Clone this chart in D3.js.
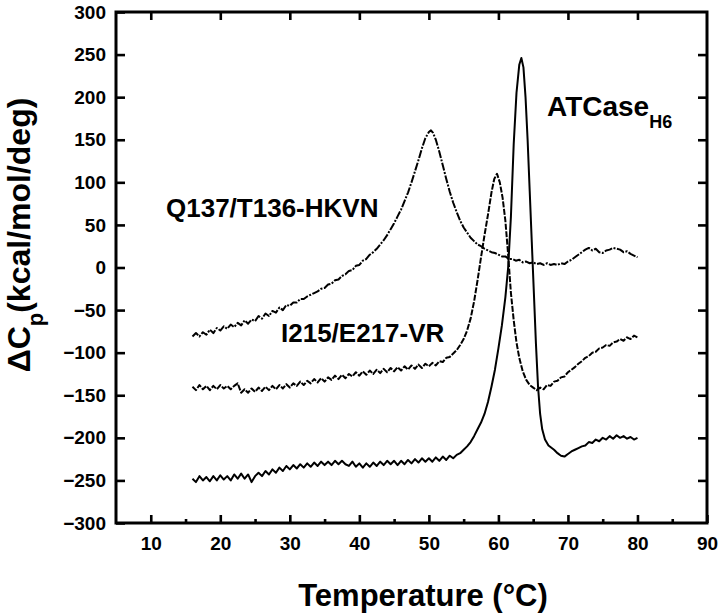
<!DOCTYPE html>
<html>
<head>
<meta charset="utf-8">
<script src="https://cdn.jsdelivr.net/npm/d3@7"></script>
<style>
  html, body { margin: 0; padding: 0; background: #fff; }
  svg { display: block; }
  text { font-family: Arial, "Liberation Sans", Helvetica, sans-serif; font-weight: bold; fill: #000; }
</style>
</head>
<body>
<svg id="chart" width="720" height="616"></svg>
<script>
// ---------- data ----------
const xMajorTicks = [10, 20, 30, 40, 50, 60, 70, 80, 90];
const xMinorTicks = [15, 25, 35, 45, 55, 65, 75, 85];
const yTicks = [-300, -250, -200, -150, -100, -50, 0, 50, 100, 150, 200, 250, 300];

const seriesNames = ["Q137/T136-HKVN", "I215/E217-VR", "ATCase"];

// Q137/T136-HKVN
const tempQ = [16,16.5,17,17.5,18,18.5,19,19.5,20,20.5,21,21.5,22,22.5,23,23.5,24,24.5,25,25.5,26,26.5,27,27.5,28,28.5,29,29.5,30,30.5,31,31.5,32,32.5,33,33.5,34,34.5,35,35.5,36,36.5,37,37.5,38,38.5,39,39.5,40,40.5,41,41.5,42,42.5,43,43.5,44,44.5,45,45.5,46,46.5,47,47.5,48,48.5,49,49.5,50,50.3,50.6,51,51.5,52,52.5,53,53.5,54,54.5,55,55.5,56,56.5,57,57.5,58,58.5,59,59.5,60,60.5,61,61.5,62,62.5,63,63.5,64,64.5,65,65.5,66,66.5,67,67.5,68,68.5,69,69.5,70,70.5,71,71.5,72,72.5,73,73.5,74,74.5,75,75.5,76,76.5,77,77.5,78,78.5,79,79.5,80];
const valQ = [-81,-77,-81,-76,-79,-73,-77,-71,-74,-69,-72,-67,-70,-65,-68,-62,-66,-61,-63,-57,-60,-54,-57,-51,-53,-47,-50,-44,-45,-41,-41,-37,-37,-34,-32,-30,-28,-25,-24,-20,-19,-15,-14,-10,-8,-4,-3,2,3,8,10,15,18,22,27,32,38,45,52,60,68,78,88,100,113,126,140,152,159,161,158,150,136,120,104,89,76,65,55,47,41,35,31,27,25,22,20,18,17,15,13,13,10,10,8,9,6,7,5,6,4,5,3,5,3,4,3,5,4,7,9,12,15,18,21,23,20,22,18,17,20,21,23,22,21,18,19,16,14,12];

// I215/E217-VR
const tempI = [16,16.5,17,17.5,18,18.5,19,19.5,20,20.5,21,21.5,22,22.5,23,23.5,24,24.5,25,25.5,26,26.5,27,27.5,28,28.5,29,29.5,30,30.5,31,31.5,32,32.5,33,33.5,34,34.5,35,35.5,36,36.5,37,37.5,38,38.5,39,39.5,40,40.5,41,41.5,42,42.5,43,43.5,44,44.5,45,45.5,46,46.5,47,47.5,48,48.5,49,49.5,50,50.5,51,51.5,52,52.5,53,53.5,54,54.5,55,55.5,56,56.5,57,57.5,58,58.5,59,59.4,59.8,60.2,60.6,61,61.4,61.8,62.2,62.6,63,63.5,64,64.5,65,65.5,66,66.5,67,67.5,68,68.5,69,69.5,70,70.5,71,71.5,72,72.5,73,73.5,74,74.5,75,75.5,76,76.5,77,77.5,78,78.5,79,79.5,80];
const valI = [-140,-144,-138,-143,-139,-144,-139,-143,-138,-142,-139,-143,-139,-136,-147,-143,-147,-142,-146,-141,-145,-140,-144,-139,-143,-138,-142,-137,-141,-136,-139,-134,-138,-133,-136,-131,-135,-130,-134,-129,-132,-127,-131,-126,-130,-125,-128,-123,-127,-122,-126,-121,-125,-120,-124,-119,-123,-118,-122,-117,-121,-116,-120,-115,-119,-114,-118,-113,-116,-112,-115,-110,-111,-106,-105,-101,-97,-91,-84,-74,-60,-40,-15,12,38,62,88,104,110,100,82,55,15,-30,-62,-88,-106,-122,-132,-138,-141,-144,-141,-143,-138,-139,-134,-133,-129,-128,-123,-120,-117,-113,-110,-106,-104,-100,-99,-95,-94,-91,-92,-88,-87,-84,-86,-82,-84,-80,-82];

// ATCase (H6)
const tempA = [16,16.5,17,17.5,18,18.5,19,19.5,20,20.5,21,21.5,22,22.5,23,23.5,24,24.5,25,25.5,26,26.5,27,27.5,28,28.5,29,29.5,30,30.5,31,31.5,32,32.5,33,33.5,34,34.5,35,35.5,36,36.5,37,37.5,38,38.5,39,39.5,40,40.5,41,41.5,42,42.5,43,43.5,44,44.5,45,45.5,46,46.5,47,47.5,48,48.5,49,49.5,50,50.5,51,51.5,52,52.5,53,53.5,54,54.5,55,55.5,56,56.5,57,57.5,58,58.5,59,59.5,60,60.5,61,61.4,61.8,62.2,62.6,63,63.3,63.6,63.9,64.2,64.5,64.8,65.1,65.4,65.7,66,66.3,66.7,67.2,68,68.5,69,69.5,70,70.5,71,71.5,72,72.5,73,73.5,74,74.5,75,75.5,76,76.5,77,77.5,78,78.5,79,79.5,80];
const valA = [-248,-252,-245,-250,-246,-251,-245,-250,-244,-249,-245,-250,-243,-248,-242,-248,-243,-252,-245,-241,-245,-239,-243,-237,-241,-235,-239,-233,-237,-232,-236,-231,-235,-230,-234,-229,-233,-228,-232,-228,-232,-227,-231,-227,-231,-233,-228,-234,-230,-235,-230,-234,-229,-233,-228,-232,-227,-231,-227,-232,-227,-231,-226,-230,-225,-229,-224,-228,-224,-228,-223,-227,-222,-226,-221,-224,-220,-218,-214,-210,-205,-198,-190,-182,-172,-158,-140,-120,-95,-68,-35,0,60,145,205,238,246,235,200,150,90,30,-30,-90,-140,-172,-190,-202,-209,-214,-218,-221,-222,-219,-216,-214,-212,-210,-209,-205,-206,-202,-204,-200,-202,-198,-201,-197,-200,-198,-201,-199,-202,-200];

// ---------- layout ----------
const svg = d3.select("#chart");
const plotL = 116, plotR = 707, plotT = 12, plotB = 523;
const x = d3.scaleLinear().domain([5, 90]).range([plotL, plotR]);
const y = d3.scaleLinear().domain([-300, 300]).range([plotB, plotT]);

function styleAxis(g) {
  g.select(".domain").remove();
  g.selectAll(".tick line").attr("stroke", "#000").attr("stroke-width", 2.6);
  g.selectAll(".tick text").style("font-size", "19px").style("font-weight", "bold")
    .style("font-family", "Arial, 'Liberation Sans', Helvetica, sans-serif").attr("fill", "#000");
}

// bottom major
svg.append("g").attr("transform", `translate(0,${plotB})`)
  .call(d3.axisBottom(x).tickValues(xMajorTicks).tickSize(-8).tickPadding(14).tickFormat(d3.format("d")))
  .call(styleAxis);
// bottom minor
svg.append("g").attr("transform", `translate(0,${plotB})`)
  .call(d3.axisBottom(x).tickValues(xMinorTicks).tickSize(-4).tickFormat(""))
  .call(styleAxis);
// top major (no labels)
svg.append("g").attr("transform", `translate(0,${plotT})`)
  .call(d3.axisTop(x).tickValues(xMajorTicks.slice(0, -1)).tickSize(-8).tickFormat(""))
  .call(styleAxis);
// left
svg.append("g").attr("transform", `translate(${plotL},0)`)
  .call(d3.axisLeft(y).tickValues(yTicks).tickSize(-9).tickPadding(10).tickFormat(d3.format("d")))
  .call(styleAxis);
// right
svg.append("g").attr("transform", `translate(${plotR},0)`)
  .call(d3.axisRight(y).tickValues(yTicks.slice(1, -1)).tickSize(-9).tickFormat(""))
  .call(styleAxis);

// frame
svg.append("rect").attr("x", plotL).attr("y", plotT).attr("width", plotR - plotL).attr("height", plotB - plotT)
  .attr("fill", "none").attr("stroke", "#000").attr("stroke-width", 3);

// ---------- curves ----------
const line = d3.line().x(d => x(d[0])).y(d => y(d[1]));
const curves = [
  { t: tempQ, v: valQ, dash: "8,1.5,2,1.5" },
  { t: tempI, v: valI, dash: "6,1.5" },
  { t: tempA, v: valA, dash: null }
];
curves.forEach(c => {
  const pts = c.t.map((t, i) => [t, c.v[i]]);
  svg.append("path").datum(pts).attr("d", line)
    .attr("fill", "none").attr("stroke", "#000").attr("stroke-width", 2)
    .attr("stroke-linejoin", "round")
    .attr("stroke-dasharray", c.dash);
});

// ---------- labels ----------
svg.append("text").attr("x", 166).attr("y", 217).style("font-size", "26px").text(seriesNames[0]);
svg.append("text").attr("x", 281).attr("y", 342).style("font-size", "26px").text(seriesNames[1]);
const at = svg.append("text").attr("x", 547).attr("y", 116).style("font-size", "28px");
at.append("tspan").text(seriesNames[2]);
at.append("tspan").attr("dy", 12).style("font-size", "18px").text("H6");

// axis titles
svg.append("text").attr("x", 423).attr("y", 606).attr("text-anchor", "middle")
  .style("font-size", "31px").text("Temperature (°C)");

const yt = svg.append("text").attr("transform", "translate(30,235) rotate(-90)")
  .attr("text-anchor", "middle").style("font-size", "32px");
yt.append("tspan").text("ΔC");
yt.append("tspan").attr("dy", 13).style("font-size", "22px").text("p");
yt.append("tspan").attr("dy", -13).text("(kcal/mol/deg)");
</script>
</body>
</html>
